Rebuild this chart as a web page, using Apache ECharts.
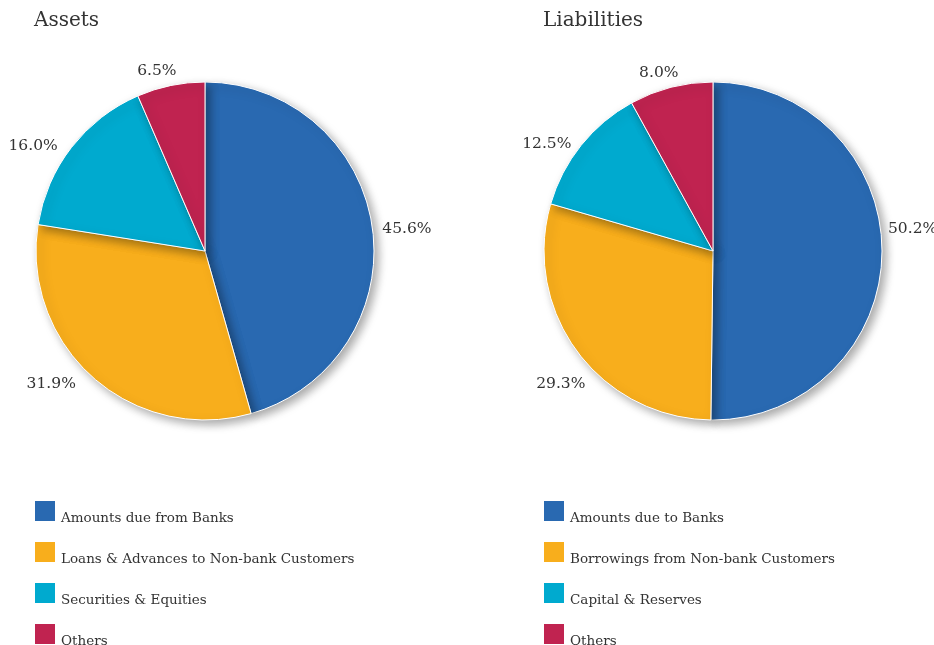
<!DOCTYPE html>
<html>
<head>
<meta charset="utf-8">
<script src="https://cdn.jsdelivr.net/npm/echarts@6/dist/echarts.min.js"></script>
<style>
  html, body { margin: 0; padding: 0; background: #fff; }
  #chart { width: 934px; height: 645px; }
</style>
</head>
<body>
<div id="chart"></div>
<script>
// Balance sheet composition (%)
const assetCategories = ['Amounts due from Banks', 'Loans & Advances to Non-bank Customers', 'Securities & Equities', 'Others'];
const assetValues = [45.6, 31.9, 16.0, 6.5];
const liabilityCategories = ['Amounts due to Banks', 'Borrowings from Non-bank Customers', 'Capital & Reserves', 'Others'];
const liabilityValues = [50.2, 29.3, 12.5, 8.0];
const panelTitles = ['Assets', 'Liabilities'];
const sliceColors = ['#2969b1', '#f8ae1c', '#00aacf', '#c02350'];

// small label nudges (px) so the percentages sit clear of the pie rim
const assetLabelNudge = [[-1, 2], [-8, 2], [-4, 2], [12, -9]];
const liabilityLabelNudge = [[-5, -23], [18, 29], [0, 2], [14, -9]];

const FONT = '"DejaVu Serif", serif';
const TEXT = '#333333';

function pieSeries(name, cats, vals, nudges, cx) {
  return {
    name: name,
    type: 'pie',
    center: [cx, 251],
    radius: 169,
    startAngle: 90,
    clockwise: true,
    avoidLabelOverlap: false,
    data: cats.map((c, i) => ({
      name: c,
      value: vals[i],
      itemStyle: { color: sliceColors[i] },
      label: { offset: nudges[i] }
    })),
    itemStyle: {
      borderColor: '#ffffff',
      borderWidth: 1,
      shadowBlur: 10,
      shadowOffsetX: 4,
      shadowOffsetY: 4,
      shadowColor: 'rgba(0,0,0,0.35)'
    },
    label: {
      show: true,
      position: 'outside',
      formatter: p => p.value.toFixed(1) + '%',
      fontFamily: FONT,
      fontSize: 15.5,
      color: TEXT
    },
    labelLine: { show: false, length: 6, length2: 0 },
    emphasis: { disabled: true }
  };
}

function legend(cats, left) {
  return {
    orient: 'vertical',
    left: left,
    top: 499,
    height: 220,
    padding: 0,
    itemWidth: 22,
    itemHeight: 22,
    itemGap: 15,
    icon: 'rect',
    selectedMode: false,
    data: cats,
    formatter: n => '{t|' + n + '}',
    textStyle: {
      fontFamily: FONT, fontSize: 13.5, color: TEXT,
      rich: { t: { fontFamily: FONT, fontSize: 13.5, color: TEXT, padding: [14, 0, 0, 0] } }
    }
  };
}

const chart = echarts.init(document.getElementById('chart'), null, { renderer: 'canvas' });
chart.setOption({
  animation: false,
  color: sliceColors,
  title: [
    { text: panelTitles[0], left: 34, top: 11, padding: 0, textStyle: { fontFamily: FONT, fontSize: 20, fontWeight: 'normal', color: TEXT } },
    { text: panelTitles[1], left: 543, top: 11, padding: 0, textStyle: { fontFamily: FONT, fontSize: 20, fontWeight: 'normal', color: TEXT } }
  ],
  legend: [legend(assetCategories, 33), legend(liabilityCategories, 542)],
  series: [
    pieSeries('Assets', assetCategories, assetValues, assetLabelNudge, 205),
    pieSeries('Liabilities', liabilityCategories, liabilityValues, liabilityLabelNudge, 713)
  ]
});
</script>
</body>
</html>
